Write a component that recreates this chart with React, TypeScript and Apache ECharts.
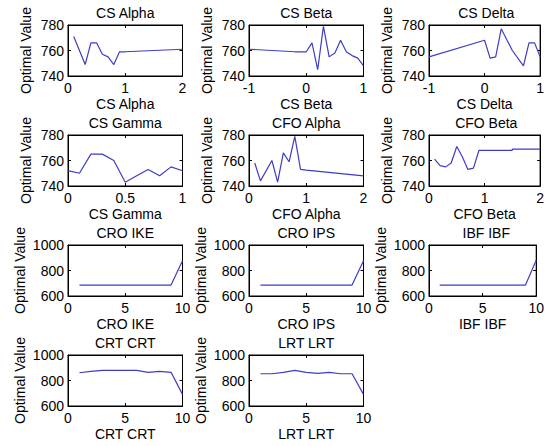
import React, { useEffect, useRef } from "react";
import * as echarts from "echarts";

// ---- data ----
const csAlphaX = [0.1, 0.3, 0.4, 0.5, 0.6, 0.7, 0.8, 0.9, 1.0, 1.5, 2.0];
const csAlphaY = [771, 749, 766, 766, 757, 755, 749, 759, 759, 760, 761];

const csBetaX = [-1, -0.2, 0, 0.1, 0.2, 0.3, 0.4, 0.5, 0.6, 0.7, 0.8, 0.9, 1];
const csBetaY = [761, 759, 759, 766, 745, 779, 755, 758, 768, 759, 756, 754, 748];

const csDeltaX = [-1, 0, 0.1, 0.2, 0.3, 0.5, 0.7, 0.8, 0.9, 1];
const csDeltaY = [755, 768, 754, 755, 777, 760, 748, 766, 766, 755];

const csGammaX = [0, 0.1, 0.2, 0.3, 0.4, 0.5, 0.6, 0.7, 0.8, 0.9, 1];
const csGammaY = [752, 750, 765, 765, 760, 743, 748, 753, 748, 755, 752];

const cfoAlphaX = [0.1, 0.2, 0.4, 0.5, 0.6, 0.7, 0.8, 0.9, 1.0, 2.0];
const cfoAlphaY = [758, 744, 760, 743, 766, 759, 779, 753, 752.5, 748];

const cfoBetaX = [0.1, 0.2, 0.3, 0.4, 0.5, 0.6, 0.7, 0.8, 0.9, 1.0, 1.5, 1.5, 2.0];
const cfoBetaY = [761, 756, 755, 758, 771, 763, 753, 754, 768, 768, 768, 769, 769];

const stepX = [1, 2, 3, 4, 5, 6, 7, 8, 9, 10];
const croIkeY = [686, 686, 686, 686, 686, 686, 686, 686, 686, 877];
const croIpsY = [686, 686, 686, 686, 686, 686, 686, 686, 686, 877];
const ibfY = [686, 686, 686, 686, 686, 686, 686, 686, 686, 880];
const crtY = [861, 872, 880, 880, 880, 880, 864, 872, 864, 691];
const lrtY = [853, 853, 864, 880, 864, 856, 864, 853, 853, 691];

const yTicksSmall = { min: 740, max: 780, interval: 20 };
const yTicksLarge = { min: 600, max: 1000, interval: 200 };

type Panel = {
  title: string;
  xs: number[];
  ys: number[];
  xMin: number;
  xMax: number;
  xInt: number;
  y: { min: number; max: number; interval: number };
};

const panels: Panel[] = [
  { title: "CS Alpha", xs: csAlphaX, ys: csAlphaY, xMin: 0, xMax: 2, xInt: 1, y: yTicksSmall },
  { title: "CS Beta", xs: csBetaX, ys: csBetaY, xMin: -1, xMax: 1, xInt: 1, y: yTicksSmall },
  { title: "CS Delta", xs: csDeltaX, ys: csDeltaY, xMin: -1, xMax: 1, xInt: 1, y: yTicksSmall },
  { title: "CS Gamma", xs: csGammaX, ys: csGammaY, xMin: 0, xMax: 1, xInt: 0.5, y: yTicksSmall },
  { title: "CFO Alpha", xs: cfoAlphaX, ys: cfoAlphaY, xMin: 0, xMax: 2, xInt: 1, y: yTicksSmall },
  { title: "CFO Beta", xs: cfoBetaX, ys: cfoBetaY, xMin: 0, xMax: 2, xInt: 1, y: yTicksSmall },
  { title: "CRO IKE", xs: stepX, ys: croIkeY, xMin: 0, xMax: 10, xInt: 5, y: yTicksLarge },
  { title: "CRO IPS", xs: stepX, ys: croIpsY, xMin: 0, xMax: 10, xInt: 5, y: yTicksLarge },
  { title: "IBF IBF", xs: stepX, ys: ibfY, xMin: 0, xMax: 10, xInt: 5, y: yTicksLarge },
  { title: "CRT CRT", xs: stepX, ys: crtY, xMin: 0, xMax: 10, xInt: 5, y: yTicksLarge },
  { title: "LRT LRT", xs: stepX, ys: lrtY, xMin: 0, xMax: 10, xInt: 5, y: yTicksLarge },
];

// ---- layout ----
const colLeft = [68, 249, 429];
const rowTop = [25, 135, 245, 355];
const plotW = 114.5;
const plotH = 51;
const FONT = '"Liberation Sans", Arial, sans-serif';
const FS = 14;
const LINE_COLOR = "#3d3dc6";

export default function App() {
  const ref = useRef<HTMLDivElement>(null);
  useEffect(() => {
    if (!ref.current) return;
    const chart = echarts.init(ref.current, undefined, { renderer: "svg" });
    const grids: any[] = [];
    const xAxes: any[] = [];
    const yAxes: any[] = [];
    const series: any[] = [];
    const graphics: any[] = [];
    const axisLine = { show: true, onZero: false, lineStyle: { color: "#000", width: 1 } };
    const axisTick = { show: true, inside: true, length: 3, lineStyle: { color: "#000" } };
    const labelStyle = { color: "#000", fontSize: FS, fontFamily: FONT };
    const fmt = (v: number) => String(v);
    panels.forEach((p, i) => {
      const c = i % 3;
      const r = Math.floor(i / 3);
      const left = colLeft[c];
      const top = rowTop[r];
      grids.push({
        left,
        top,
        width: plotW,
        height: plotH,
        show: true,
        borderColor: "#000",
        borderWidth: 1,
        containLabel: false,
      });
      const xBase = { gridIndex: i, type: "value", min: p.xMin, max: p.xMax, interval: p.xInt, splitLine: { show: false } };
      xAxes.push({
        ...xBase,
        position: "bottom",
        name: p.title,
        nameLocation: "middle",
        nameGap: 21,
        nameTextStyle: { ...labelStyle },
        axisLine,
        axisTick,
        axisLabel: { ...labelStyle, margin: 5, formatter: fmt },
      });
      xAxes.push({
        ...xBase,
        position: "top",
        axisLine,
        axisTick,
        axisLabel: { show: false },
      });
      const yBase = { gridIndex: i, type: "value", min: p.y.min, max: p.y.max, interval: p.y.interval, splitLine: { show: false } };
      const big = p.y.max >= 1000;
      yAxes.push({
        ...yBase,
        position: "left",
        name: "Optimal Value",
        nameLocation: "middle",
        nameRotate: 90,
        nameGap: big ? 41 : 35,
        nameTextStyle: { ...labelStyle },
        axisLine,
        axisTick,
        axisLabel: { ...labelStyle, margin: 4, formatter: fmt },
      });
      yAxes.push({
        ...yBase,
        position: "right",
        axisLine,
        axisTick,
        axisLabel: { show: false },
      });
      series.push({
        type: "line",
        xAxisIndex: 2 * i,
        yAxisIndex: 2 * i,
        data: p.xs.map((x, k) => [x, p.ys[k]]),
        showSymbol: false,
        symbol: "none",
        lineStyle: { color: LINE_COLOR, width: 1.2 },
        silent: true,
      });
      graphics.push({
        type: "text",
        x: left + plotW / 2,
        y: top - 12,
        style: {
          text: p.title,
          align: "center",
          verticalAlign: "middle",
          fontSize: FS,
          fontFamily: FONT,
          fill: "#000",
        },
      });
    });
    chart.setOption({
      animation: false,
      backgroundColor: "#fff",
      grid: grids,
      xAxis: xAxes,
      yAxis: yAxes,
      series,
      graphic: graphics,
    });
    return () => chart.dispose();
  }, []);
  return (
    <div
      ref={ref}
      style={{ position: "absolute", left: 0, top: 0, width: 547, height: 446 }}
    />
  );
}
